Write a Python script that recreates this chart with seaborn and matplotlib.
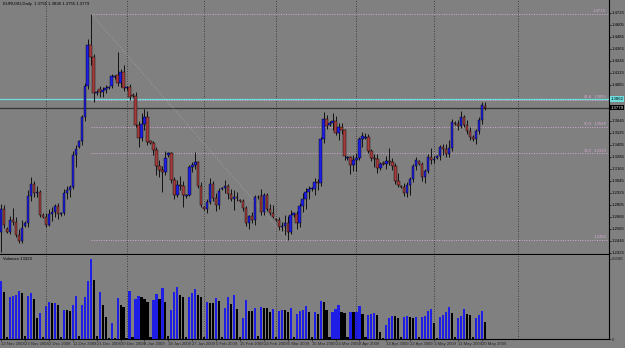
import numpy as np
import pandas as pd
import matplotlib
matplotlib.use("Agg")
import matplotlib.pyplot as plt
import matplotlib.transforms as mtrans
import seaborn as sns

# ---------------- data ----------------
# daily bars (MT4 style: every day except Saturday), 13 Nov 2008 .. 21 May 2009
dates = [d for d in pd.date_range("2008-11-13", "2009-05-21") if d.dayofweek != 5]

opens = [1.2530, 1.2760, 1.2560, 1.2530, 1.2650, 1.2630, 1.2500, 1.2440,
         1.2590, 1.2620, 1.2890, 1.3010, 1.2920, 1.2930,
         1.2700, 1.2680, 1.2600, 1.2710, 1.2730, 1.2790,
         1.2710, 1.2720, 1.2920, 1.2950, 1.2980, 1.3300,
         1.3380, 1.3440, 1.3680, 1.3990, 1.4400, 1.4280,
         1.3920, 1.3960, 1.3930, 1.3950, 1.3970, 1.3990,
         1.4080, 1.4100, 1.4020, 1.4130, 1.3970, 1.3980,
         1.3900, 1.3890, 1.3600, 1.3470, 1.3610, 1.3680,
         1.3440, 1.3420, 1.3350, 1.3190, 1.3150, 1.3130,
         1.3300, 1.3320, 1.3050, 1.2900, 1.3000, 1.2990,
         1.2890, 1.2900, 1.3180, 1.3200, 1.3230, 1.2990,
         1.2780, 1.2760, 1.2830, 1.3010, 1.2870, 1.2800,
         1.2960, 1.2970, 1.2990, 1.2910, 1.2860, 1.2880,
         1.2850, 1.2840, 1.2770, 1.2620, 1.2690, 1.2650,
         1.2880, 1.2890, 1.2730, 1.2900, 1.2760, 1.2720,
         1.2660, 1.2650, 1.2580, 1.2590, 1.2620, 1.2530,
         1.2700, 1.2710, 1.2620, 1.2790, 1.2860, 1.2930,
         1.2960, 1.2960, 1.3030, 1.3020, 1.3460, 1.3660,
         1.3600, 1.3620, 1.3640, 1.3520, 1.3580, 1.3550,
         1.3270, 1.3280, 1.3200, 1.3250, 1.3270, 1.3460,
         1.3470, 1.3480, 1.3340, 1.3270, 1.3260, 1.3170,
         1.3220, 1.3210, 1.3240, 1.3230, 1.3190, 1.3040,
         1.2990, 1.2980, 1.2920, 1.3000, 1.3060, 1.3190,
         1.3240, 1.3210, 1.3080, 1.3140, 1.3280, 1.3250,
         1.3270, 1.3290, 1.3380, 1.3360, 1.3310, 1.3370,
         1.3620, 1.3610, 1.3590, 1.3680, 1.3600, 1.3540,
         1.3480, 1.3460, 1.3540, 1.3650, 1.3791]
highs = [1.2810, 1.2800, 1.2580, 1.2690, 1.2770, 1.2680, 1.2560, 1.2650,
         1.2640, 1.2950, 1.3080, 1.3040, 1.2990, 1.2950,
         1.2720, 1.2720, 1.2760, 1.2780, 1.2810, 1.2820,
         1.2730, 1.2960, 1.2990, 1.3000, 1.3340, 1.3400,
         1.3450, 1.3700, 1.4020, 1.4460, 1.4719, 1.4310,
         1.3950, 1.3990, 1.3980, 1.4000, 1.3990, 1.4110,
         1.4100, 1.4330, 1.4160, 1.4200, 1.3990, 1.4010,
         1.3920, 1.3930, 1.3640, 1.3720, 1.3760, 1.3740,
         1.3450, 1.3440, 1.3380, 1.3250, 1.3190, 1.3340,
         1.3330, 1.3330, 1.3080, 1.3050, 1.3090, 1.3040,
         1.2910, 1.3200, 1.3230, 1.3330, 1.3240, 1.3030,
         1.2790, 1.2860, 1.3070, 1.3040, 1.2920, 1.2970,
         1.2980, 1.3050, 1.3010, 1.2960, 1.2950, 1.2930,
         1.2860, 1.2860, 1.2790, 1.2700, 1.2730, 1.2900,
         1.2900, 1.2960, 1.2920, 1.2920, 1.2810, 1.2800,
         1.2670, 1.2680, 1.2630, 1.2700, 1.2690, 1.2750,
         1.2730, 1.2740, 1.2820, 1.2920, 1.2970, 1.2990,
         1.2980, 1.3070, 1.3060, 1.3480, 1.3738, 1.3700,
         1.3640, 1.3720, 1.3690, 1.3620, 1.3620, 1.3560,
         1.3290, 1.3290, 1.3300, 1.3320, 1.3480, 1.3530,
         1.3520, 1.3510, 1.3360, 1.3310, 1.3310, 1.3230,
         1.3240, 1.3290, 1.3370, 1.3270, 1.3220, 1.3120,
         1.3000, 1.3020, 1.3030, 1.3080, 1.3210, 1.3280,
         1.3250, 1.3230, 1.3160, 1.3310, 1.3370, 1.3290,
         1.3300, 1.3400, 1.3410, 1.3410, 1.3450, 1.3660,
         1.3640, 1.3650, 1.3740, 1.3700, 1.3650, 1.3580,
         1.3500, 1.3560, 1.3680, 1.3830, 1.3836]
lows = [1.2330, 1.2570, 1.2520, 1.2510, 1.2600, 1.2480, 1.2420, 1.2420,
        1.2580, 1.2580, 1.2840, 1.2880, 1.2880, 1.2680,
        1.2670, 1.2580, 1.2590, 1.2640, 1.2680, 1.2660,
        1.2690, 1.2700, 1.2860, 1.2880, 1.2960, 1.3180,
        1.3370, 1.3400, 1.3640, 1.3960, 1.4200, 1.3830,
        1.3900, 1.3880, 1.3880, 1.3920, 1.3960, 1.3970,
        1.4060, 1.3990, 1.3980, 1.3940, 1.3950, 1.3850,
        1.3880, 1.3580, 1.3380, 1.3440, 1.3550, 1.3400,
        1.3410, 1.3300, 1.3100, 1.3080, 1.2930, 1.3100,
        1.3280, 1.3020, 1.2860, 1.2880, 1.2950, 1.2780,
        1.2870, 1.2890, 1.3130, 1.3160, 1.2970, 1.2780,
        1.2750, 1.2720, 1.2810, 1.2840, 1.2740, 1.2760,
        1.2950, 1.2920, 1.2860, 1.2840, 1.2750, 1.2840,
        1.2830, 1.2740, 1.2590, 1.2560, 1.2620, 1.2600,
        1.2860, 1.2700, 1.2700, 1.2740, 1.2700, 1.2670,
        1.2640, 1.2550, 1.2540, 1.2500, 1.2456, 1.2510,
        1.2680, 1.2560, 1.2580, 1.2730, 1.2760, 1.2860,
        1.2940, 1.2900, 1.2950, 1.2990, 1.3420, 1.3560,
        1.3590, 1.3550, 1.3500, 1.3450, 1.3510, 1.3250,
        1.3250, 1.3110, 1.3140, 1.3140, 1.3250, 1.3380,
        1.3460, 1.3320, 1.3240, 1.3180, 1.3120, 1.3150,
        1.3200, 1.3160, 1.3200, 1.3150, 1.3010, 1.2980,
        1.2970, 1.2890, 1.2880, 1.2900, 1.3030, 1.3150,
        1.3200, 1.3040, 1.3020, 1.3120, 1.3210, 1.3220,
        1.3260, 1.3250, 1.3300, 1.3280, 1.3280, 1.3340,
        1.3600, 1.3550, 1.3570, 1.3580, 1.3510, 1.3450,
        1.3440, 1.3410, 1.3510, 1.3610, 1.3755]
closes = [1.2760, 1.2600, 1.2530, 1.2650, 1.2630, 1.2500, 1.2440, 1.2570,
          1.2620, 1.2890, 1.3010, 1.2920, 1.2930, 1.2700,
          1.2680, 1.2600, 1.2710, 1.2730, 1.2790, 1.2710,
          1.2720, 1.2920, 1.2950, 1.2980, 1.3300, 1.3360,
          1.3440, 1.3680, 1.3990, 1.4400, 1.4280, 1.3920,
          1.3930, 1.3930, 1.3950, 1.3970, 1.3980, 1.4090,
          1.4090, 1.4020, 1.4130, 1.3970, 1.3980, 1.3880,
          1.3890, 1.3600, 1.3470, 1.3610, 1.3680, 1.3430,
          1.3420, 1.3350, 1.3190, 1.3150, 1.3130, 1.3270,
          1.3320, 1.3050, 1.2900, 1.3000, 1.2990, 1.2900,
          1.2900, 1.3180, 1.3200, 1.3230, 1.2990, 1.2800,
          1.2760, 1.2830, 1.3010, 1.2870, 1.2800, 1.2940,
          1.2970, 1.2990, 1.2910, 1.2860, 1.2880, 1.2870,
          1.2840, 1.2770, 1.2620, 1.2690, 1.2650, 1.2880,
          1.2880, 1.2730, 1.2900, 1.2760, 1.2720, 1.2680,
          1.2650, 1.2580, 1.2590, 1.2620, 1.2530, 1.2700,
          1.2720, 1.2620, 1.2790, 1.2860, 1.2930, 1.2960,
          1.2970, 1.3030, 1.3020, 1.3460, 1.3660, 1.3590,
          1.3620, 1.3640, 1.3520, 1.3580, 1.3550, 1.3290,
          1.3280, 1.3200, 1.3250, 1.3270, 1.3460, 1.3490,
          1.3480, 1.3340, 1.3270, 1.3260, 1.3170, 1.3210,
          1.3210, 1.3240, 1.3230, 1.3190, 1.3040, 1.3000,
          1.2980, 1.2920, 1.3000, 1.3060, 1.3190, 1.3250,
          1.3210, 1.3080, 1.3140, 1.3280, 1.3250, 1.3260,
          1.3290, 1.3380, 1.3360, 1.3310, 1.3370, 1.3630,
          1.3610, 1.3590, 1.3680, 1.3600, 1.3540, 1.3480,
          1.3460, 1.3540, 1.3650, 1.3800, 1.3779]
volumes = [44360, 35806, 1890, 32248, 32778, 33535, 36563, 35276,
           2200, 33005, 35276, 30734, 16351, 20136,
           1700, 25435, 28463, 27479, 27706, 25965,
           2000, 22180, 21802, 21423, 25965, 32778,
           2600, 25965, 32248, 44133, 60588, 44890,
           2400, 36033, 25965, 17108, 1200, 12339,
           900, 31491, 25965, 24678, 1100, 36790,
           1500, 30734, 33005, 32248, 30507, 28463,
           2000, 29750, 34292, 30734, 39061, 28463,
           2300, 22180, 35806, 39591, 33535, 32021,
           2100, 32021, 35049, 38077, 33535, 32021,
           1800, 28463, 27706, 27252, 31491, 28993,
           2000, 23467, 32248, 26722, 33535, 22710,
           1600, 16124, 29750, 21650, 21423, 23694,
           2200, 24678, 23467, 23240, 20893, 22710,
           1900, 21650, 22180, 21953, 20893, 23921,
           2000, 19152, 21650, 22180, 25435, 20893,
           1800, 20893, 19152, 29220, 28463, 22180,
           1970, 20893, 22937, 25965, 20439, 20212,
           1700, 20893, 20439, 20893, 25208, 19152,
           1800, 18395, 18925, 19682, 18395, 5753,
           1200, 10825, 16124, 17638, 17260, 16124,
           1500, 16881, 17638, 17108, 16351, 17108,
           1600, 17108, 17865, 21650, 22937, 12566,
           1300, 17108, 18395, 20893, 24224, 20136,
           1500, 16351, 17865, 22710, 19152, 18395,
           1600, 16351, 18395, 21650, 13323]

fib_high = 1.4719          # 18 Dec 2008 high
fib_low = 1.2456           # 5 Mar 2009 low
fib_levels = [0.0, 38.2, 50.0, 61.8, 100.0]
cyan_level = 1.3862
price_ticks = [1.2325, 1.2445, 1.2565, 1.2685, 1.2805, 1.2925, 1.3045, 1.3165,
               1.3285, 1.3405, 1.3525, 1.3645, 1.4005, 1.4125,
               1.4245, 1.4365, 1.4485, 1.4605, 1.4725]
date_labels = ["13 Nov 2008", "23 Nov 2008", "2 Dec 2008", "11 Dec 2008", "21 Dec 2008",
               "30 Dec 2008", "8 Jan 2009", "18 Jan 2009", "27 Jan 2009", "5 Feb 2009",
               "15 Feb 2009", "24 Feb 2009", "5 Mar 2009", "15 Mar 2009", "24 Mar 2009",
               "2 Apr 2009", "13 Apr 2009", "22 Apr 2009", "1 May 2009", "11 May 2009",
               "20 May 2009"]

# ---------------- style ----------------
BG = "#808080"
BULL = "#1e1ee6"
BEAR = "#a33c3c"
FIB = "#d2a8d2"
sns.set_style("white")
plt.rcParams["font.family"] = ["Liberation Sans", "DejaVu Sans"]
FS = 3.1

W, H = 625, 348
fig = plt.figure(figsize=(W / 100, H / 100), dpi=100, facecolor=BG)


def px_axes(x0, y0, x1, y1):
    return fig.add_axes([x0 / W, 1 - y1 / H, (x1 - x0) / W, (y1 - y0) / H])


ax = px_axes(0, 0, 609, 254)
axv = px_axes(0, 255, 609, 339.3)
for a in (ax, axv):
    a.set_facecolor(BG)

n = len(dates)
idx = np.arange(n)
o = np.array(opens); h = np.array(highs); l = np.array(lows); c = np.array(closes)
up = c >= o

# ---------------- candles ----------------
ax.vlines(idx, l, h, color="black", lw=0.6, zorder=3)
body_lo = np.minimum(o, c)
body_h = np.maximum(np.abs(c - o), 0.00035)
ax.bar(idx, body_h, bottom=body_lo, width=0.85,
       color=np.where(up, BULL, BEAR), edgecolor="black", linewidth=0.3, zorder=4)

# ---------------- volume (seaborn) ----------------
vol = np.array(volumes)
direction = ["up"] + ["up" if vol[i] > vol[i - 1] else "down" for i in range(1, n)]
vdf = pd.DataFrame({"bar": idx, "volume": vol, "dir": direction})
sns.barplot(data=vdf, x="bar", y="volume", hue="dir", native_scale=True,
            palette={"up": BULL, "down": "black"}, dodge=False, legend=False,
            width=0.74, saturation=1, errorbar=None, linewidth=0, ax=axv)
axv.set_xlabel("")
axv.set_ylabel("")

# ---------------- x scale ----------------
x_left = -0.40
x_right = 203.6
for a in (ax, axv):
    a.set_xlim(x_left, x_right)

p_top = fib_high + 13.5 / 1000
p_bot = fib_high - (254 - 13.5) / 1000
ax.set_ylim(p_bot, p_top)
vmax = max(volumes)
axv.set_ylim(0, vmax * 84.3 / 80.3)

# vertical grid at month starts (+ next month in future area)
month_starts = [i for i in range(1, n) if dates[i].month != dates[i - 1].month]
future = (n - 1) + (pd.Timestamp("2009-06-01") - dates[-1]).days
for a in (ax, axv):
    for gx in month_starts + [future]:
        a.axvline(gx, color="#2a2a2a", lw=0.6, ls=(0, (1, 2)), zorder=1)

# ---------------- horizontal lines ----------------
ax.axhline(cyan_level, color="#6fdede", lw=0.9, zorder=2)
ax.axhline(closes[-1], color="#333333", lw=0.9, zorder=2)

# fibonacci
i_hi = highs.index(fib_high)
i_lo = lows.index(fib_low)
ax.plot([i_hi, i_lo], [fib_high, fib_low], color="#a8a8a8", lw=0.6, ls=(0, (1, 2)), zorder=2)
trans = mtrans.blended_transform_factory(fig.transFigure, ax.transData)
for lv in fib_levels:
    p = fib_low + lv / 100 * (fib_high - fib_low)
    ax.hlines(p, i_hi, x_right, color=FIB, lw=0.7, linestyles=(0, (1, 1.5)), zorder=2)
    ax.text(606 / W, p + 0.0007, f"{p:.4f}", transform=trans, ha="right", va="bottom",
            fontsize=FS, color=FIB, zorder=6)
    if 0 < lv < 100:
        ax.text(592 / W, p + 0.0007, f"{lv:.1f}", transform=trans, ha="right", va="bottom",
                fontsize=FS, color=FIB, zorder=6)

# ---------------- right axes ----------------
ax.yaxis.tick_right()
ax.set_yticks(price_ticks)
ax.set_yticklabels([f"{t:.4f}" for t in price_ticks])
ax.tick_params(axis="y", labelsize=FS, length=1.5, width=0.5, pad=0.6, colors="black")
ax.tick_params(axis="x", bottom=False, labelbottom=False)
axv.yaxis.tick_right()
axv.set_yticks([0, vmax])
axv.set_yticklabels(["0", str(vmax)])
axv.tick_params(axis="y", labelsize=FS, length=1.5, width=0.5, pad=0.6)

label_pos = [next(i for i, d in enumerate(dates)
                  if f"{d.day} {d.strftime('%b %Y')}" == s) for s in date_labels]
axv.set_xticks(label_pos)
axv.set_xticklabels(date_labels, ha="left")
axv.tick_params(axis="x", labelsize=FS, length=1.5, width=0.5, pad=0.8, bottom=True)

for a in (ax, axv):
    for s in ("top", "left"):
        a.spines[s].set_visible(False)
    for s in ("right", "bottom"):
        a.spines[s].set_color("black")
        a.spines[s].set_linewidth(0.8)

# price boxes on the scale
ax.text(610.5 / W, cyan_level, f"{cyan_level:.4f}", transform=trans, fontsize=FS, va="center",
        ha="left", color="black", zorder=10, clip_on=False,
        bbox=dict(boxstyle="square,pad=0.2", fc="#6fdede", ec="none"))
ax.text(610.5 / W, closes[-1], f"{closes[-1]:.4f}", transform=trans, fontsize=FS, va="center",
        ha="left", color="white", zorder=10, clip_on=False,
        bbox=dict(boxstyle="square,pad=0.2", fc="black", ec="none"))

# titles
fig.text(3 / W, 1 - 2 / H,
         f"EURUSD,Daily  {opens[-1]:.4f} {highs[-1]:.4f} {lows[-1]:.4f} {closes[-1]:.4f}",
         fontsize=FS, va="top", ha="left", color="black")
fig.text(3 / W, 1 - 257 / H, f"Volumes {volumes[-1]}", fontsize=FS, va="top",
         ha="left", color="black")

fig.savefig("out.png", dpi=100, facecolor=BG)
